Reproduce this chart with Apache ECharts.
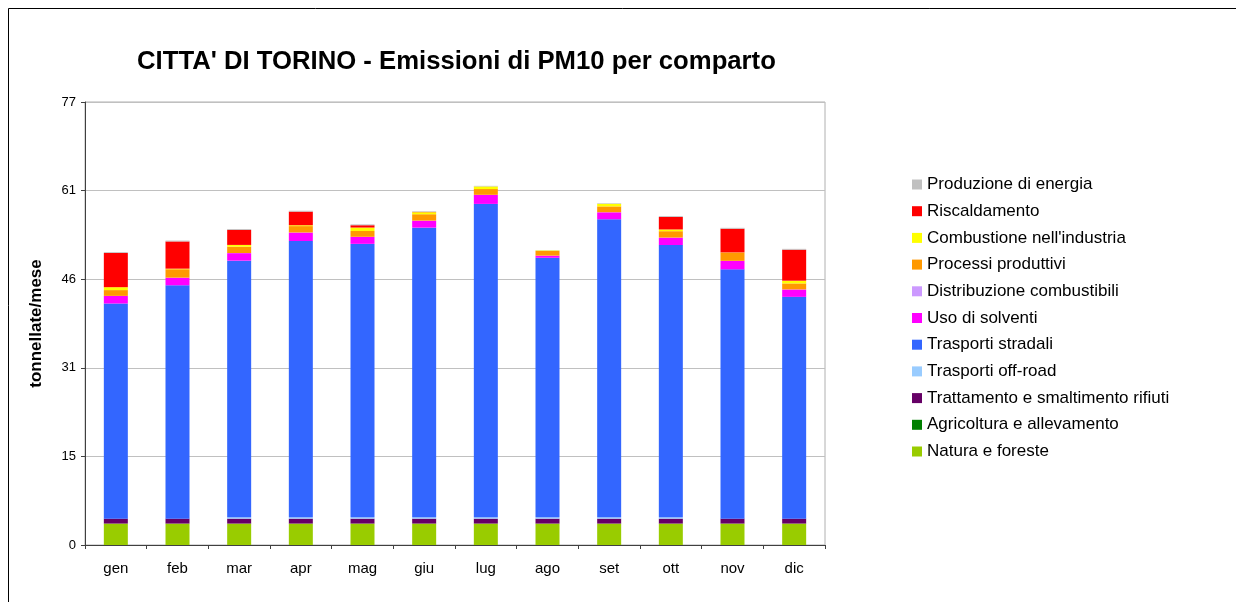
<!DOCTYPE html>
<html>
<head>
<meta charset="utf-8">
<script src="https://cdn.jsdelivr.net/npm/echarts@6/dist/echarts.min.js"></script>
<style>html,body{margin:0;padding:0;background:#fff;}#c{width:1236px;height:602px;}</style>
</head>
<body>
<div id="c"></div>
<script>
var months = ['gen','feb','mar','apr','mag','giu','lug','ago','set','ott','nov','dic'];
var yTickLabels = ['0','15','31','46','61','77'];

var natura       = [3.7,3.7,3.7,3.7,3.7,3.7,3.7,3.7,3.7,3.7,3.7,3.7];
var agricoltura  = [0,0,0,0,0,0,0,0,0,0,0,0];
var trattamento  = [0.85,0.85,0.85,0.85,0.85,0.85,0.85,0.85,0.85,0.85,0.85,0.85];
var offroad      = [0,0,0.25,0.25,0.25,0.25,0.25,0.25,0.25,0.25,0,0];
var stradali     = [37.15,40.3,44.3,47.7,47.2,50.0,54.1,44.8,51.45,47.0,43.05,38.3];
var solventi     = [1.3,1.3,1.3,1.45,1.2,1.2,1.55,0.35,1.2,1.27,1.45,1.27];
var distribuzione= [0.02,0.02,0.02,0.02,0.02,0.02,0.02,0.02,0.02,0.02,0.02,0.02];
var processi     = [1.0,1.45,1.1,1.1,1.0,1.1,1.0,0.8,1.0,1.1,1.4,1.03];
var combustione  = [0.5,0.1,0.3,0.15,0.6,0.35,0.45,0.1,0.45,0.3,0.05,0.47];
var riscaldamento= [5.9,4.7,2.6,2.35,0.4,0.05,0,0,0,2.15,4.1,5.35];
var produzione   = [0.15,0.15,0.15,0.15,0.15,0.1,0.1,0.05,0.1,0.15,0.15,0.15];

var seriesDefs = [
  ['Natura e foreste', natura, '#99cc00'],
  ['Agricoltura e allevamento', agricoltura, '#008000'],
  ['Trattamento e smaltimento rifiuti', trattamento, '#660066'],
  ['Trasporti off-road', offroad, '#99ccff'],
  ['Trasporti stradali', stradali, '#3366ff'],
  ['Uso di solventi', solventi, '#ff00ff'],
  ['Distribuzione combustibili', distribuzione, '#cc99ff'],
  ['Processi produttivi', processi, '#ff9900'],
  ["Combustione nell'industria", combustione, '#ffff00'],
  ['Riscaldamento', riscaldamento, '#ff0000'],
  ['Produzione di energia', produzione, '#c0c0c0']
];

var font = '"Liberation Sans", Arial, sans-serif';
var chart = echarts.init(document.getElementById('c'), null, {renderer: 'canvas'});
var series = seriesDefs.map(function (d) {
  return {
    name: d[0], type: 'bar', stack: 'tot', data: d[1],
    barWidth: 24,
    itemStyle: {color: d[2]},
    emphasis: {disabled: true}
  };
});

chart.setOption({
  animation: false,
  backgroundColor: '#fff',
  title: {
    text: "CITTA' DI TORINO - Emissioni di PM10 per comparto",
    left: 137, top: 49, padding: 0,
    textStyle: {fontFamily: font, fontSize: 25.7, fontWeight: 'bold', color: '#000'}
  },
  legend: {
    orient: 'vertical',
    left: 912, top: 176, padding: 0,
    itemWidth: 10, itemHeight: 10, itemGap: 9.7,
    icon: 'rect',
    data: seriesDefs.map(function (d) { return d[0]; }).reverse(),
    textStyle: {fontFamily: font, fontSize: 17, lineHeight: 17, color: '#000'}
  },
  grid: {
    left: 85, right: 411, top: 102, bottom: 57,
    show: true, borderColor: '#b0b0b0', borderWidth: 1
  },
  xAxis: {
    type: 'category', data: months,
    axisLine: {lineStyle: {color: '#404040'}},
    axisTick: {show: true, length: 4, lineStyle: {color: '#404040'}},
    axisLabel: {fontFamily: font, fontSize: 15, color: '#000', margin: 16}
  },
  yAxis: {
    type: 'value', min: 0, max: 76.5, interval: 15.3,
    name: 'tonnellate/mese', nameLocation: 'middle', nameGap: 40,
    nameTextStyle: {fontFamily: font, fontSize: 17, fontWeight: 'bold', color: '#000'},
    axisLine: {show: true, lineStyle: {color: '#404040'}},
    axisTick: {show: true, length: 4, lineStyle: {color: '#404040'}},
    splitLine: {lineStyle: {color: '#c0c0c0'}},
    axisLabel: {
      fontFamily: font, fontSize: 13, color: '#000', margin: 9,
      formatter: function (v) { return yTickLabels[Math.round(v / 15.3)]; }
    }
  },
  graphic: [
    {type: 'line', shape: {x1: 8.5, y1: 8.5, x2: 1236, y2: 8.5}, style: {stroke: '#000', lineWidth: 1}},
    {type: 'line', shape: {x1: 8.5, y1: 8.5, x2: 8.5, y2: 602}, style: {stroke: '#000', lineWidth: 1}}
  ],
  series: series
});
</script>
</body>
</html>
